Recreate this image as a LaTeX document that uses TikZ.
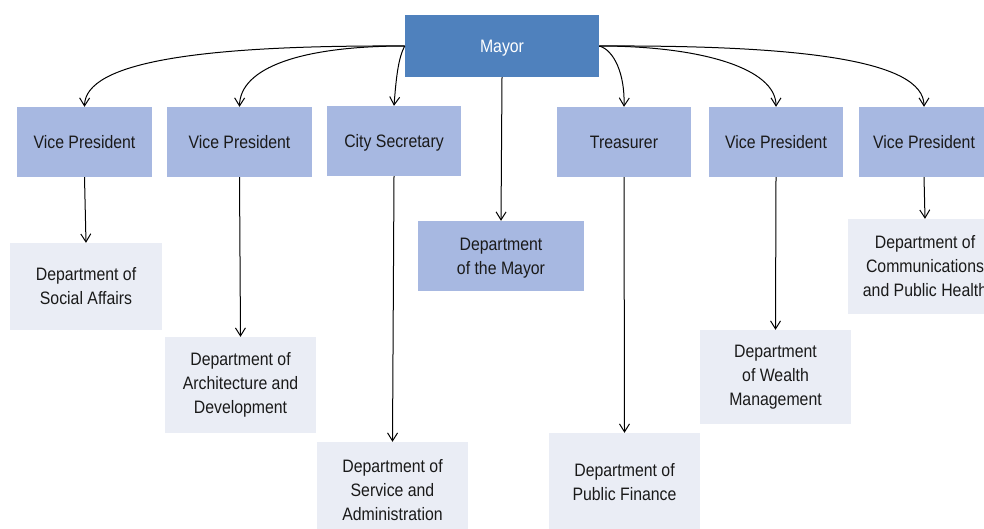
\documentclass[tikz,border=0pt]{standalone}
\usepackage{fontspec}
\setmainfont{Liberation Sans}[FakeStretch=0.88]
\usepackage{tikz}
\usetikzlibrary{arrows.meta}
\definecolor{MayorBlue}{HTML}{4F81BD}
\definecolor{HeadBlue}{HTML}{A7B8E1}
\definecolor{DeptGrey}{HTML}{EAEDF5}
\definecolor{TextDark}{HTML}{1A1A1A}

\begin{document}
\begin{tikzpicture}[
  x=1pt, y=-1pt,
  font=\fontsize{18}{24}\selectfont,
  top/.style={fill=MayorBlue, text=white, inner sep=0pt, text depth=0pt, minimum width=194pt, minimum height=62pt},
  head/.style={fill=HeadBlue, text=TextDark, inner sep=0pt, text depth=0pt, align=center, minimum height=70pt},
  dept/.style={fill=DeptGrey, text=TextDark, inner sep=0pt, align=center, minimum width=151pt},
  link/.style={line width=1pt, -{Straight Barb[length=8pt, width=10pt]}}
]
\useasboundingbox (0,0) rectangle (984,528);

\node[top] (mayor) at (502,46) {Mayor};

\node[head, minimum width=135pt] (vpA) at (84.5,142) {Vice President};
\node[head, minimum width=145pt] (vpB) at (239.5,142) {Vice President};
\node[head, minimum width=134pt] (sec) at (394,141) {City Secretary};
\node[head, minimum width=134pt] (tre) at (624,142) {Treasurer};
\node[head, minimum width=134pt] (vpC) at (776,142) {Vice President};
\node[head, minimum width=130pt] (vpD) at (924,142) {Vice President};

\node[dept, minimum width=152pt, minimum height=87pt] (dSoc) at (86,286.5) {Department of\\Social Affairs};
\node[dept, minimum height=96pt] (dArc) at (240.5,385) {Department of\\Architecture and\\Development};
\node[dept, minimum height=96pt] (dSer) at (392.5,490) {Department of\\Service and\\Administration};
\node[head, minimum width=166pt] (dMay) at (501,256) {Department\\of the Mayor};
\node[dept, minimum height=98pt] (dFin) at (624.5,482) {Department of\\Public Finance};
\node[dept, minimum height=94pt] (dWea) at (775.5,377) {Department\\of Wealth\\Management};
\node[dept, minimum width=154pt, minimum height=95pt] (dCom) at (925,266.5) {Department of\\Communications\\and Public Health};

\draw[link] (mayor.west) .. controls (200,45) and (85,62) .. (vpA.north);
\draw[link] (mayor.west) .. controls (300,46) and (240,68) .. (vpB.north);
\draw[link] (mayor.west) .. controls (398,58) and (396,80) .. (sec.north);
\draw[link] (mayor.south) -- (dMay.north);
\draw[link] (mayor.east) .. controls (614,50) and (625,74) .. (tre.north);
\draw[link] (mayor.east) .. controls (700,46) and (776,68) .. (vpC.north);
\draw[link] (mayor.east) .. controls (800,45) and (924,60) .. (vpD.north);

\draw[link] (vpA.south) -- (dSoc.north);
\draw[link] (vpB.south) -- (dArc.north);
\draw[link] (sec.south) -- (dSer.north);
\draw[link] (tre.south) -- (dFin.north);
\draw[link] (vpC.south) -- (dWea.north);
\draw[link] (vpD.south) -- (dCom.north);

\end{tikzpicture}
\end{document}
